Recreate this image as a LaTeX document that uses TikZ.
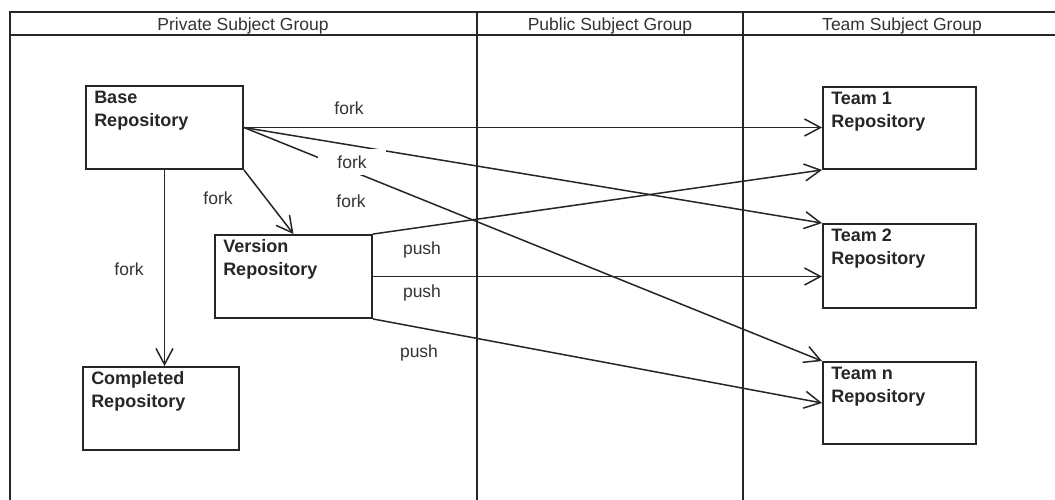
\documentclass[tikz,border=0pt]{standalone}
\usepackage{fontspec}
\setmainfont{Liberation Sans}
\usetikzlibrary{arrows.meta}

\begin{document}
\begin{tikzpicture}[x=1pt,y=-1pt,
  frameline/.style={line width=2.6pt, draw=black!85},
  repo/.style={draw=black!85, line width=1.9pt, inner sep=0pt, fill=white},
  repotext/.style={anchor=north west, align=left, inner sep=0pt,
    xshift=9pt, yshift=-5.5pt, text=black!85,
    font={\fontsize{18}{23}\selectfont\bfseries}},
  lbl/.style={anchor=base, inner sep=0pt, text=black!80,
    font={\fontsize{17.5}{21}\selectfont}},
  flow/.style={draw=black!85, line width=1.5pt,
    -{Straight Barb[length=16pt, width=17pt, line width=1.5pt]}}
]
\useasboundingbox (0,0) rectangle (1055,499);
\fill[white] (0,0) rectangle (1055,499);
\clip (0,0) rectangle (1055,499);

% swimlane frame
\coordinate (tl) at (10,12);
\coordinate (hl) at (10,35);
\draw[frameline] (9,12) -- (1060,12);
\draw[frameline] (tl |- hl) -- (1060,35);
\draw[frameline] (tl) -- (10,505);
\draw[frameline] (477,12) -- (477,505);
\draw[frameline] (743,12) -- (743,505);

\node[lbl] (hprivate) at (243,30) {Private Subject Group};
\node[lbl] (hpublic)  at (610,30) {Public Subject Group};
\node[lbl] (hteam)    at (902,30) {Team Subject Group};

% repositories
\node[repo, minimum width=157pt, minimum height=83pt,
  label={[repotext]north west:Base\\Repository}] (base) at (164.5,127.5) {};
\node[repo, minimum width=157pt, minimum height=83pt,
  label={[repotext]north west:Version\\Repository}] (version) at (293.5,276.5) {};
\node[repo, minimum width=156pt, minimum height=83pt,
  label={[repotext]north west:Completed\\Repository}] (completed) at (161,408.5) {};
\node[repo, minimum width=153pt, minimum height=82pt,
  label={[repotext]north west:Team 1\\Repository}] (team1) at (899.5,128) {};
\node[repo, minimum width=153pt, minimum height=84pt,
  label={[repotext]north west:Team 2\\Repository}] (team2) at (899.5,266) {};
\node[repo, minimum width=153pt, minimum height=82pt,
  label={[repotext]north west:Team n\\Repository}] (teamn) at (899.5,403) {};

% fork and push connections
\draw[flow] (base.east) -- (base.east -| team1.west);
\draw[flow] (base.east) -- (team2.north west);
\draw[flow] (base.east) -- (teamn.north west);
\draw[flow] (base.south east) -- (version.north);
\draw[flow] (base.south) -- (base.south |- completed.north);
\draw[flow] (version.north east) -- (team1.south west);
\draw[flow] (version.east) -- (version.east -| team2.west);
\draw[flow] (version.south east) -- (teamn.west);

% connection labels
\node[lbl] (f1) at (349,114) {fork};
\node[fill=white, inner sep=0pt, minimum width=68pt, minimum height=26pt,
  text=black!80, font={\fontsize{17.5}{21}\selectfont}] (f2) at (352,162) {fork};
\node[lbl] (f3) at (351,207) {fork};
\node[lbl] (f4) at (218,204) {fork};
\node[lbl] (f5) at (129,275) {fork};
\node[lbl] (p1) at (422,254) {push};
\node[lbl] (p2) at (422,297) {push};
\node[lbl] (p3) at (419,357) {push};
\end{tikzpicture}
\end{document}
